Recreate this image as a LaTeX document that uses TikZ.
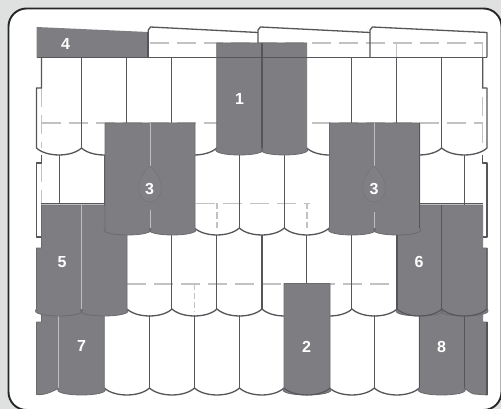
\documentclass[tikz,border=0pt]{standalone}
\usepackage{fontspec}
\setmainfont{Liberation Sans}
\definecolor{bggray}{HTML}{DFE0E0}
\definecolor{tile}{HTML}{7E7E82}
\definecolor{tilesoft}{HTML}{808084}
\definecolor{edge}{HTML}{55555A}
\definecolor{dashc}{HTML}{C2C2C2}
\tikzset{
  lobe/.style={to path={.. controls +(10,9.3) and +(-10,9.3) .. (\tikztotarget)}},
  outline/.style={draw=edge,line width=1.3pt,line join=round},
  dashline/.style={draw=dashc,line width=1.3pt,dash pattern=on 19pt off 8pt},
  shortdash/.style={dash pattern=on 6pt off 3pt},
  block/.style={fill=tile,draw=tile!85!black,line width=.8pt,line join=round},
  divider/.style={draw=tile!50!white,line width=1pt},
  darkdiv/.style={draw=edge,line width=1.1pt},
  drop/.style={fill=tilesoft,draw=tile!93!black,line width=.5pt},
  num/.style={text=white,font=\bfseries\fontsize{16}{16}\selectfont,inner sep=0pt}
}
\begin{document}
\begin{tikzpicture}[x=1pt,y=-1pt]
\useasboundingbox (0,0) rectangle (501,409);
\clip (0,0) rectangle (501,409);
\fill[bggray] (0,0) rectangle (501,409);
\draw[fill=white,draw=black!85,line width=1.9pt,rounded corners=18pt] (8.5,8.5) rectangle (501.5,410);
% dashed hidden lines
\draw[dashline] (150,43) -- (483,43);
\draw[dashline] (41.5,123) -- (483,123);
\draw[dashline] (196,203.5) -- (310,203.5);
\draw[dashline] (127,284) -- (397,284);
\draw[dashline] (396.7,43) -- (396.7,58);
\draw[dashline] (482.7,43) -- (482.7,148);
\draw[dashline] (41.2,88) -- (41.2,148);
\draw[dashline] (41.2,163) -- (41.2,237);
\draw[dashline,shortdash] (217,203.5) -- (217,228);
\draw[dashline,shortdash] (307,203.5) -- (307,228);
\draw[dashline,shortdash] (194.5,284) -- (194.5,312);
% top band
\draw[outline] (148.3,57.5) -- (148.3,30) -- (150.5,27) -- (258,32.5);
\draw[outline] (258,57.5) -- (258,30) -- (260.5,27) -- (370,32.5);
\draw[outline] (370,57.5) -- (370,30) -- (372.5,27) -- (487,32.5) -- (487,57.5);
\draw[outline] (37,57.5) -- (487,57.5);
% row 1
\draw[outline] (41.5,57.5) -- (41.5,88) -- (36.5,88) -- (36.5,148)
  to[lobe] (81.5,148) to[lobe] (126.7,148) to[lobe] (171.7,148) to[lobe] (216.7,148);
\draw[outline] (306.7,148) to[lobe] (351.7,148) to[lobe] (396.7,148) to[lobe] (441.7,148) to[lobe] (487,148)
  -- (487,88) -- (482.7,88) -- (482.7,57.5);
\draw[outline] (81.5,57.5) -- (81.5,148) (126.7,57.5) -- (126.7,123) (171.7,57.5) -- (171.7,123)
  (351.7,57.5) -- (351.7,123) (396.7,57.5) -- (396.7,123) (441.7,57.5) -- (441.7,148);
% row 2
\draw[outline] (41.2,155) -- (41.2,163) -- (36.5,163) -- (36.5,237) -- (41.2,237);
\draw[outline] (482.7,155) -- (482.7,163) -- (487,163) -- (487,237) -- (482.7,237);
\draw[outline] (59.3,155) -- (59.3,203.5) (104.5,155) -- (104.5,205)
  (239.3,155) -- (239.3,228) (284.3,155) -- (284.3,228) (194.5,155) -- (194.5,228)
  (464.3,155) -- (464.3,205);
\draw[outline] (41.2,203.5) -- (105,203.5) (420,203.5) -- (483,203.5);
\draw[outline] (194.5,228) to[lobe] (239.3,228) to[lobe] (284.3,228) to[lobe] (329.3,228);
% row 3
\draw[outline] (127,309) to[lobe] (172,309) to[lobe] (217,309) to[lobe] (262,309) to[lobe] (307,309) to[lobe] (352,309) to[lobe] (397,309);
\draw[outline] (171.7,235) -- (171.7,309) (216.7,235) -- (216.7,309) (262,235) -- (262,309)
  (306.7,235) -- (306.7,284) (351.7,235) -- (351.7,309);
% row 4
\draw[outline] (104.3,388) to[lobe] (149.5,388) to[lobe] (194.5,388) to[lobe] (239.5,388) to[lobe] (284,388);
\draw[outline] (329.5,388) to[lobe] (374.3,388) to[lobe] (419.3,388);
\draw[outline] (149.5,315) -- (149.5,388) (194.5,315) -- (194.5,388) (239.5,315) -- (239.5,388)
  (374.3,315) -- (374.3,388);
% block 4
\fill[tile] (36.5,27) -- (148,32) -- (148,57.5) -- (36.5,57.5) -- cycle;
\draw[outline] (36.5,57.5) -- (148,57.5) -- (148,32);
% block 7
\path[block] (41.5,322) -- (41.5,312) -- (104.3,312) -- (104.3,388) to[lobe] (58.8,388)
  .. controls +(-6,3.5) and +(8,1) .. (36.5,394.5) -- (36.5,322) -- cycle;
\draw[divider] (58.8,316) -- (58.8,388);
% block 8
\path[block] (419.3,312) -- (482.7,312) -- (482.7,322) -- (487,322) -- (487,395) -- (474,394)
  .. controls +(-4,-1) and +(3,2) .. (464.3,388) to[lobe] (419.3,388) -- cycle;
\draw[darkdiv] (464.3,316) -- (464.3,388) (487,322) -- (487,395) (419.3,316) -- (419.3,388);
% block 5
\path[block] (41.5,205) -- (127,205) -- (127,309) to[lobe] (81.5,309) to[lobe] (36.5,309)
  -- (36.5,248) -- (41.5,248) -- cycle;
\draw[divider] (81.5,205) -- (81.5,309);
% block 6
\path[block] (397,205) -- (482.7,205) -- (482.7,248) -- (487,248) -- (487,309)
  to[lobe] (441.7,309) to[lobe] (397,309) -- cycle;
\draw[darkdiv] (441.7,205) -- (441.7,309) (397,235) -- (397,309);
\draw[darkdiv] (397,309) to[lobe] (441.7,309) to[lobe] (487,309) -- (487,248);
% block 3 left and right
\path[block] (105,123) -- (195,123) -- (195,228) to[lobe] (150,228) to[lobe] (105,228) -- cycle;
\draw[divider] (150,123) -- (150,166) (150,228) -- (150,210);
\path[drop] (150,166) .. controls (143,172) and (139,180) .. (139,189) .. controls (139,197) and (144,202) .. (150,202)
  .. controls (156,202) and (161,197) .. (161,189) .. controls (161,180) and (157,172) .. (150,166);
\path[block] (329.5,123) -- (419.7,123) -- (419.7,228) to[lobe] (374.5,228) to[lobe] (329.5,228) -- cycle;
\draw[divider] (374.5,123) -- (374.5,166) (374.5,228) -- (374.5,212);
\path[drop] (374,166) .. controls (367,172) and (363,180) .. (363,189) .. controls (363,197) and (368,202) .. (374,202)
  .. controls (380,202) and (385,197) .. (385,189) .. controls (385,180) and (381,172) .. (374,166);
\draw[darkdiv] (419.7,123) -- (419.7,228);
% block 1
\path[block] (216.7,43) -- (306.7,43) -- (306.7,148) to[lobe] (262,148) to[lobe] (216.7,148) -- cycle;
\draw[darkdiv] (262,43) -- (262,148);
\draw[draw=edge,line width=.8pt] (216.7,57.5) -- (306.7,57.5);
% block 2
\path[block] (284,283.5) -- (330,283.5) -- (330,388) to[lobe] (284,388) -- cycle;
\draw[darkdiv] (284,388) to[lobe] (330,388);
% labels
\node[num] (n4) at (65.5,43.5) {4};
\node[num] (n1) at (239.5,98.5) {1};
\node[num] (n3a) at (149.5,189) {3};
\node[num] (n3b) at (374,189) {3};
\node[num] (n5) at (62,262) {5};
\node[num] (n6) at (419,262) {6};
\node[num] (n7) at (81.5,346) {7};
\node[num] (n2) at (306.5,346.5) {2};
\node[num] (n8) at (441.5,346.5) {8};
\end{tikzpicture}
\end{document}
